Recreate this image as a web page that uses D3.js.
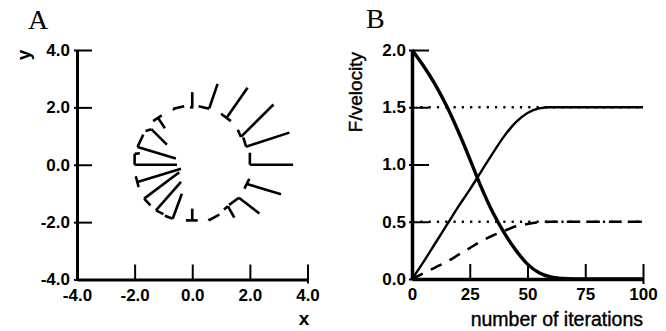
<!DOCTYPE html>
<html>
<head>
<meta charset="utf-8">
<script src="https://cdn.jsdelivr.net/npm/d3@7"></script>
<style>
  html, body { margin: 0; padding: 0; background: #fff; }
  svg { display: block; }
  .tick text { font-family: "Liberation Sans", Arial, sans-serif; font-weight: bold; font-size: 17px; fill: #000; }
</style>
</head>
<body>
<svg id="chart" width="666" height="331"></svg>
<script>
// Panel A: ring of vector glyphs, each a long stroke plus a short bar, [x0, y0, x1, y1] in data units
const longSegs = [
  [2.00, 0.00, 3.50, 0.00],
  [1.87, 0.63, 3.37, 1.12],
  [1.69, 0.97, 2.82, 2.10],
  [1.18, 1.62, 1.92, 2.68],
  [0.59, 1.97, 0.88, 2.82],
  [0.00, 2.02, 0.00, 2.53],
  [-0.66, 1.95, -0.28, 2.04],
  [-1.18, 1.62, -0.95, 1.27],
  [-1.42, 1.24, -0.88, 0.70],
  [-1.90, 0.62, -0.57, 0.22],
  [-2.00, 0.00, -0.53, 0.00],
  [-1.90, -0.60, -0.39, -0.14],
  [-1.67, -1.18, -0.45, -0.26],
  [-1.26, -1.59, -0.39, -0.60],
  [-0.68, -1.88, -0.36, -1.01],
  [0.00, -1.94, 0.00, -1.53],
  [0.57, -1.94, 0.94, -1.74],
  [1.24, -1.45, 1.46, -1.84],
  [1.62, -1.15, 2.33, -1.70],
  [1.87, -0.66, 3.08, -1.03]
];
const barSegs = [
  [2.00, 0.00, 2.00, 0.42],
  [1.87, 0.63, 1.77, 0.95],
  [1.58, 1.22, 1.69, 0.97],
  [1.00, 1.78, 1.34, 1.52],
  [0.22, 2.04, 0.59, 1.95],
  [-0.08, 2.00, 0.04, 2.00],
  [-0.66, 1.95, -0.62, 1.90],
  [-1.36, 1.52, -1.06, 1.72],
  [-1.62, 1.18, -1.42, 1.24],
  [-1.90, 0.62, -1.70, 1.05],
  [-2.00, 0.00, -2.00, 0.38],
  [-1.96, -0.40, -1.86, -0.78],
  [-1.67, -1.18, -1.45, -1.42],
  [-1.26, -1.59, -1.00, -1.72],
  [-0.95, -1.78, -0.68, -1.88],
  [-0.22, -1.94, 0.19, -1.94],
  [0.57, -1.94, 0.60, -1.90],
  [1.24, -1.45, 1.10, -1.56],
  [1.62, -1.15, 1.28, -1.40],
  [1.81, -0.83, 1.98, -0.49]
];
// small serif on the glyph at the far left
const serifSegs = [
  [-2.00, 0.38, -1.82, 0.40]
];
const ticksA = [-4, -2, 0, 2, 4];

// Panel B: values sampled every 5 iterations
const iterations = [0, 5, 10, 15, 20, 25, 30, 35, 40, 45, 50, 55, 60, 65, 70, 75, 80, 85, 90, 95, 100];
const fallingF = [2.0, 1.86, 1.70, 1.51, 1.29, 1.05, 0.80, 0.58, 0.40, 0.25, 0.13, 0.055, 0.018, 0.004, 0, 0, 0, 0, 0, 0, 0];
const risingF = [0, 0.15, 0.31, 0.47, 0.63, 0.78, 0.94, 1.10, 1.25, 1.37, 1.45, 1.49, 1.50, 1.50, 1.50, 1.50, 1.50, 1.50, 1.50, 1.50, 1.50];
const velocity = [0, 0.05, 0.10, 0.15, 0.21, 0.27, 0.33, 0.38, 0.42, 0.46, 0.48, 0.495, 0.50, 0.50, 0.50, 0.50, 0.50, 0.50, 0.50, 0.50, 0.50];
const asymptotes = [1.5, 0.5];
const ticksBx = [0, 25, 50, 75, 100];
const ticksBy = [0, 0.5, 1.0, 1.5, 2.0];

const svg = d3.select('#chart');
const fmt1 = (d) => d.toFixed(1);

function styleAxis(g, width) {
  g.select('.domain').attr('stroke', '#000').attr('stroke-width', width);
  g.selectAll('.tick line').attr('stroke', '#000').attr('stroke-width', 2);
}

function drawSegs(g, segs) {
  g.append('g')
    .selectAll('line')
    .data(segs)
    .join('line')
    .attr('x1', (d) => xA(d[0])).attr('y1', (d) => yA(d[1]))
    .attr('x2', (d) => xA(d[2])).attr('y2', (d) => yA(d[3]))
    .attr('stroke', '#000').attr('stroke-width', 2.6);
}

// ---------- Panel A ----------
const xA = d3.scaleLinear().domain([-4, 4]).range([77, 307.5]);
const yA = d3.scaleLinear().domain([-4, 4]).range([279.5, 50]);

const gA = svg.append('g');

gA.append('g')
  .attr('transform', `translate(${xA(-4)},0)`)
  .call(d3.axisLeft(yA).tickValues(ticksA).tickFormat(fmt1).tickSizeInner(-15).tickSizeOuter(0).tickPadding(7))
  .call((g) => styleAxis(g, 3))
  .call((g) => g.selectAll('.tick line').attr('x1', -3));

gA.append('g')
  .attr('transform', `translate(0,${yA(-4)})`)
  .call(d3.axisBottom(xA).tickValues(ticksA).tickFormat(fmt1).tickSizeInner(-15).tickSizeOuter(0).tickPadding(9))
  .call((g) => styleAxis(g, 3))
  .call((g) => g.selectAll('.tick line').filter((d) => d === 4).attr('y1', 4));

drawSegs(gA, longSegs);
drawSegs(gA, barSegs);
drawSegs(gA, serifSegs);

svg.append('text').attr('x', 28).attr('y', 29)
  .style('font-family', '"Liberation Serif", "Times New Roman", serif').style('font-size', '28px')
  .text('A');
svg.append('text').attr('transform', 'translate(30,55) rotate(-90)')
  .attr('text-anchor', 'middle')
  .style('font-family', '"Liberation Sans", Arial, sans-serif').style('font-weight', 'bold').style('font-size', '19px')
  .text('y');
svg.append('text').attr('x', 304).attr('y', 325)
  .attr('text-anchor', 'middle')
  .style('font-family', '"Liberation Sans", Arial, sans-serif').style('font-weight', 'bold').style('font-size', '19px')
  .text('x');

// ---------- Panel B ----------
const xB = d3.scaleLinear().domain([0, 100]).range([412, 643]);
const yB = d3.scaleLinear().domain([0, 2]).range([279, 50]);

const gB = svg.append('g');

// dotted reference levels
gB.append('g')
  .selectAll('line')
  .data(asymptotes)
  .join('line')
  .attr('x1', xB(0)).attr('x2', xB(100))
  .attr('y1', (d) => yB(d)).attr('y2', (d) => yB(d))
  .attr('stroke', '#000').attr('stroke-width', 2.4)
  .attr('stroke-dasharray', '2.2,6.1');

const line = d3.line().x((d, i) => xB(iterations[i])).y((d) => yB(d)).curve(d3.curveMonotoneX);

gB.append('path').datum(velocity).attr('d', line)
  .attr('fill', 'none').attr('stroke', '#000').attr('stroke-width', 2.6)
  .attr('stroke-dasharray', '12,9');
gB.append('path').datum(risingF).attr('d', line)
  .attr('fill', 'none').attr('stroke', '#000').attr('stroke-width', 2.4);
gB.append('path').datum(fallingF).attr('d', line)
  .attr('fill', 'none').attr('stroke', '#000').attr('stroke-width', 3.4);

gB.append('g')
  .attr('transform', `translate(${xB(0)},0)`)
  .call(d3.axisLeft(yB).tickValues(ticksBy).tickFormat(fmt1).tickSizeInner(-17).tickSizeOuter(0).tickPadding(6))
  .call((g) => styleAxis(g, 3.5))
  .call((g) => g.selectAll('.tick line').attr('x1', -3));

gB.append('g')
  .attr('transform', `translate(0,${yB(0)})`)
  .call(d3.axisBottom(xB).tickValues(ticksBx).tickSizeInner(-15).tickSizeOuter(0).tickPadding(9))
  .call((g) => styleAxis(g, 3.5))
  .call((g) => g.selectAll('.tick line').filter((d) => d === 100).attr('y1', 5));

svg.append('text').attr('x', 366).attr('y', 28)
  .style('font-family', '"Liberation Serif", "Times New Roman", serif').style('font-size', '28px')
  .text('B');
svg.append('text').attr('transform', 'translate(362,92) rotate(-90)')
  .attr('text-anchor', 'middle')
  .style('font-family', '"Liberation Sans", Arial, sans-serif').style('font-size', '19px')
  .style('stroke', '#000').style('stroke-width', 0.4)
  .text('F/velocity');
svg.append('text').attr('x', 643).attr('y', 326)
  .attr('text-anchor', 'end')
  .style('font-family', '"Liberation Sans", Arial, sans-serif').style('font-size', '19.5px')
  .style('stroke', '#000').style('stroke-width', 0.4)
  .text('number of iterations');
</script>
</body>
</html>
